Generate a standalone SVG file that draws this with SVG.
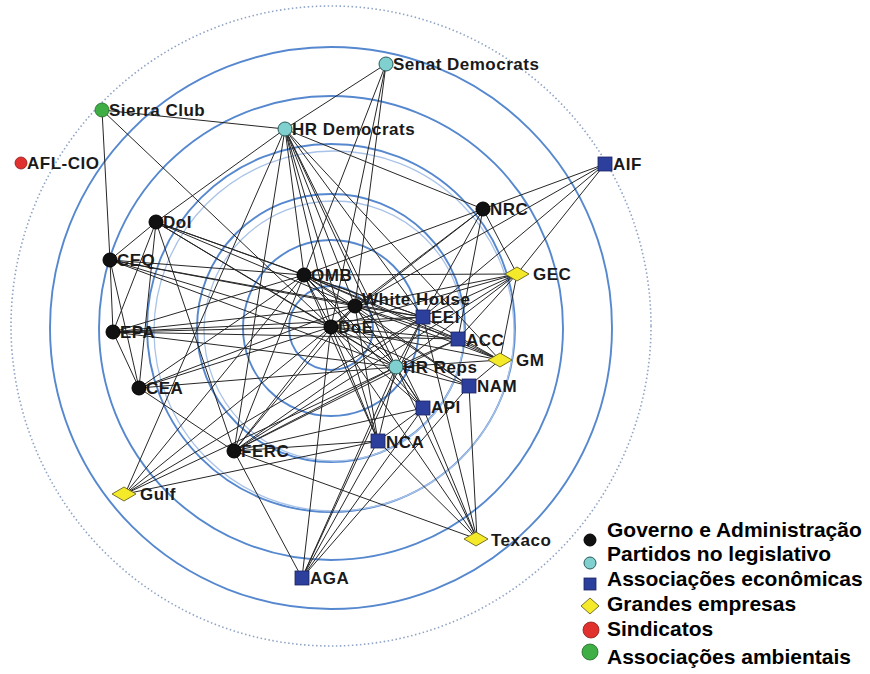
<svg xmlns="http://www.w3.org/2000/svg" width="870" height="674" viewBox="0 0 870 674">
<style>
.ring{fill:none;stroke:#5688cf;stroke-width:1.9}
.ring2{fill:none;stroke:#a9c3e8;stroke-width:1.3}
.edges line{stroke:#262626;stroke-width:1}
.gov{fill:#111;stroke:#000;stroke-width:1}
.party{fill:#7fd0cf;stroke:#2a5a5a;stroke-width:1}
.assoc{fill:#2c3f9c;stroke:#1a2560;stroke-width:0.8}
.firm{fill:#f4ea2a;stroke:#6a6420;stroke-width:0.9}
.union{fill:#e0312f;stroke:#8a1a1a;stroke-width:0.8}
.env{fill:#3fae45;stroke:#1f6a25;stroke-width:0.8}
.lbl{font-family:"Liberation Sans",Arial,sans-serif;font-size:17px;font-weight:bold;letter-spacing:0.5px;fill:#1a1a1a}
.leg{font-family:"Liberation Sans",Arial,sans-serif;font-size:21px;font-weight:bold;fill:#000}
</style>
<rect width="870" height="674" fill="#fff"/>
<g id="rings">
<circle cx="331" cy="326" r="320" fill="none" stroke="#8fa3c4" stroke-width="1.6" stroke-dasharray="1.5 2.5"/>
<circle class="ring" cx="331" cy="328" r="281" stroke-width="2.8" stroke="#4a7cc6"/>
<circle class="ring" cx="331" cy="328" r="232"/>
<circle class="ring" cx="331" cy="328" r="184"/>
<circle class="ring2" cx="334" cy="331" r="180"/>
<circle class="ring" cx="331" cy="328" r="134"/>
<circle class="ring2" cx="334" cy="331" r="130"/>
<circle class="ring" cx="331" cy="328" r="88"/>
<circle class="ring" cx="331" cy="328" r="42"/>
</g>
<g id="connectors" class="edges">
<line x1="386" y1="64" x2="285" y2="129"/>
<line x1="386" y1="64" x2="304" y2="275"/>
<line x1="386" y1="64" x2="355" y2="306"/>
<line x1="386" y1="64" x2="331" y2="327"/>
<line x1="102" y1="110" x2="285" y2="129"/>
<line x1="102" y1="110" x2="110" y2="260"/>
<line x1="102" y1="110" x2="331" y2="327"/>
<line x1="285" y1="129" x2="156" y2="222"/>
<line x1="285" y1="129" x2="483" y2="209"/>
<line x1="285" y1="129" x2="234" y2="451"/>
<line x1="285" y1="129" x2="304" y2="275"/>
<line x1="285" y1="129" x2="331" y2="327"/>
<line x1="285" y1="129" x2="355" y2="306"/>
<line x1="285" y1="129" x2="396" y2="367"/>
<line x1="285" y1="129" x2="378" y2="441"/>
<line x1="285" y1="129" x2="423" y2="408"/>
<line x1="285" y1="129" x2="500" y2="360"/>
<line x1="285" y1="129" x2="423" y2="317"/>
<line x1="285" y1="129" x2="125" y2="494"/>
<line x1="156" y1="222" x2="110" y2="260"/>
<line x1="156" y1="222" x2="113" y2="332"/>
<line x1="156" y1="222" x2="139" y2="388"/>
<line x1="156" y1="222" x2="234" y2="451"/>
<line x1="156" y1="222" x2="304" y2="275"/>
<line x1="156" y1="222" x2="355" y2="306"/>
<line x1="156" y1="222" x2="331" y2="327"/>
<line x1="156" y1="222" x2="423" y2="317"/>
<line x1="156" y1="222" x2="396" y2="367"/>
<line x1="110" y1="260" x2="113" y2="332"/>
<line x1="110" y1="260" x2="139" y2="388"/>
<line x1="110" y1="260" x2="304" y2="275"/>
<line x1="110" y1="260" x2="355" y2="306"/>
<line x1="110" y1="260" x2="331" y2="327"/>
<line x1="110" y1="260" x2="423" y2="317"/>
<line x1="110" y1="260" x2="396" y2="367"/>
<line x1="113" y1="332" x2="139" y2="388"/>
<line x1="113" y1="332" x2="331" y2="327"/>
<line x1="113" y1="332" x2="304" y2="275"/>
<line x1="113" y1="332" x2="355" y2="306"/>
<line x1="113" y1="332" x2="423" y2="317"/>
<line x1="113" y1="332" x2="458" y2="339"/>
<line x1="113" y1="332" x2="396" y2="367"/>
<line x1="139" y1="388" x2="234" y2="451"/>
<line x1="139" y1="388" x2="304" y2="275"/>
<line x1="139" y1="388" x2="331" y2="327"/>
<line x1="139" y1="388" x2="396" y2="367"/>
<line x1="139" y1="388" x2="355" y2="306"/>
<line x1="234" y1="451" x2="304" y2="275"/>
<line x1="234" y1="451" x2="355" y2="306"/>
<line x1="234" y1="451" x2="331" y2="327"/>
<line x1="234" y1="451" x2="423" y2="317"/>
<line x1="234" y1="451" x2="458" y2="339"/>
<line x1="234" y1="451" x2="396" y2="367"/>
<line x1="234" y1="451" x2="423" y2="408"/>
<line x1="234" y1="451" x2="378" y2="441"/>
<line x1="234" y1="451" x2="517" y2="274"/>
<line x1="234" y1="451" x2="302" y2="578"/>
<line x1="234" y1="451" x2="477" y2="539"/>
<line x1="125" y1="494" x2="304" y2="275"/>
<line x1="125" y1="494" x2="331" y2="327"/>
<line x1="125" y1="494" x2="396" y2="367"/>
<line x1="125" y1="494" x2="378" y2="441"/>
<line x1="125" y1="494" x2="423" y2="317"/>
<line x1="302" y1="578" x2="331" y2="327"/>
<line x1="302" y1="578" x2="396" y2="367"/>
<line x1="302" y1="578" x2="423" y2="317"/>
<line x1="302" y1="578" x2="378" y2="441"/>
<line x1="302" y1="578" x2="423" y2="408"/>
<line x1="302" y1="578" x2="469" y2="386"/>
<line x1="477" y1="539" x2="378" y2="441"/>
<line x1="477" y1="539" x2="423" y2="408"/>
<line x1="477" y1="539" x2="396" y2="367"/>
<line x1="477" y1="539" x2="331" y2="327"/>
<line x1="477" y1="539" x2="469" y2="386"/>
<line x1="477" y1="539" x2="423" y2="317"/>
<line x1="378" y1="441" x2="304" y2="275"/>
<line x1="378" y1="441" x2="355" y2="306"/>
<line x1="378" y1="441" x2="331" y2="327"/>
<line x1="378" y1="441" x2="396" y2="367"/>
<line x1="378" y1="441" x2="423" y2="408"/>
<line x1="483" y1="209" x2="605" y2="164"/>
<line x1="483" y1="209" x2="517" y2="274"/>
<line x1="483" y1="209" x2="304" y2="275"/>
<line x1="483" y1="209" x2="355" y2="306"/>
<line x1="483" y1="209" x2="423" y2="317"/>
<line x1="483" y1="209" x2="458" y2="339"/>
<line x1="483" y1="209" x2="331" y2="327"/>
<line x1="605" y1="164" x2="517" y2="274"/>
<line x1="605" y1="164" x2="355" y2="306"/>
<line x1="605" y1="164" x2="423" y2="317"/>
<line x1="517" y1="274" x2="304" y2="275"/>
<line x1="517" y1="274" x2="355" y2="306"/>
<line x1="517" y1="274" x2="331" y2="327"/>
<line x1="517" y1="274" x2="423" y2="317"/>
<line x1="517" y1="274" x2="458" y2="339"/>
<line x1="517" y1="274" x2="500" y2="360"/>
<line x1="517" y1="274" x2="396" y2="367"/>
<line x1="500" y1="360" x2="331" y2="327"/>
<line x1="500" y1="360" x2="355" y2="306"/>
<line x1="500" y1="360" x2="304" y2="275"/>
<line x1="500" y1="360" x2="469" y2="386"/>
<line x1="500" y1="360" x2="458" y2="339"/>
<line x1="500" y1="360" x2="396" y2="367"/>
<line x1="500" y1="360" x2="423" y2="317"/>
<line x1="469" y1="386" x2="331" y2="327"/>
<line x1="469" y1="386" x2="396" y2="367"/>
<line x1="469" y1="386" x2="304" y2="275"/>
<line x1="469" y1="386" x2="355" y2="306"/>
<line x1="423" y1="408" x2="331" y2="327"/>
<line x1="423" y1="408" x2="396" y2="367"/>
<line x1="423" y1="408" x2="304" y2="275"/>
<line x1="423" y1="408" x2="355" y2="306"/>
<line x1="458" y1="339" x2="331" y2="327"/>
<line x1="458" y1="339" x2="355" y2="306"/>
<line x1="458" y1="339" x2="304" y2="275"/>
<line x1="458" y1="339" x2="396" y2="367"/>
<line x1="423" y1="317" x2="331" y2="327"/>
<line x1="423" y1="317" x2="355" y2="306"/>
<line x1="423" y1="317" x2="304" y2="275"/>
<line x1="423" y1="317" x2="396" y2="367"/>
<line x1="396" y1="367" x2="331" y2="327"/>
<line x1="396" y1="367" x2="355" y2="306"/>
<line x1="396" y1="367" x2="304" y2="275"/>
<line x1="331" y1="327" x2="355" y2="306"/>
<line x1="331" y1="327" x2="304" y2="275"/>
<line x1="355" y1="306" x2="304" y2="275"/>
</g>
<g id="node-senat-democrats"><circle class="party" cx="386" cy="64" r="7"/><text class="lbl" x="393" y="70">Senat Democrats</text></g>
<g id="node-sierra-club"><circle class="env" cx="102" cy="110" r="7"/><text class="lbl" x="109" y="116">Sierra Club</text></g>
<g id="node-hr-democrats"><circle class="party" cx="285" cy="129" r="7"/><text class="lbl" x="292" y="135">HR Democrats</text></g>
<g id="node-afl-cio"><circle class="union" cx="21" cy="163" r="6"/><text class="lbl" x="27" y="169">AFL-CIO</text></g>
<g id="node-aif"><rect class="assoc" x="598" y="157" width="14" height="14"/><text class="lbl" x="613" y="170">AIF</text></g>
<g id="node-doi"><circle class="gov" cx="156" cy="222" r="7"/><text class="lbl" x="163" y="228">DoI</text></g>
<g id="node-nrc"><circle class="gov" cx="483" cy="209" r="7"/><text class="lbl" x="490" y="215">NRC</text></g>
<g id="node-ceq"><circle class="gov" cx="110" cy="260" r="7"/><text class="lbl" x="117" y="266">CEQ</text></g>
<g id="node-omb"><circle class="gov" cx="304" cy="275" r="7"/><text class="lbl" x="311" y="281">OMB</text></g>
<g id="node-gec"><polygon class="firm" points="505,274 517,267 529,274 517,281"/><text class="lbl" x="533" y="280">GEC</text></g>
<g id="node-white-house"><circle class="gov" cx="355" cy="306" r="7"/><text class="lbl" x="362" y="305">White House</text></g>
<g id="node-eei"><rect class="assoc" x="416" y="310" width="14" height="14"/><text class="lbl" x="431" y="323">EEI</text></g>
<g id="node-doe"><circle class="gov" cx="331" cy="327" r="7"/><text class="lbl" x="338" y="333">DoE</text></g>
<g id="node-epa"><circle class="gov" cx="113" cy="332" r="7"/><text class="lbl" x="120" y="338">EPA</text></g>
<g id="node-acc"><rect class="assoc" x="451" y="332" width="14" height="14"/><text class="lbl" x="466" y="346">ACC</text></g>
<g id="node-gm"><polygon class="firm" points="488,360 500,353 512,360 500,367"/><text class="lbl" x="516" y="366">GM</text></g>
<g id="node-hr-reps"><circle class="party" cx="396" cy="367" r="7"/><text class="lbl" x="403" y="373">HR Reps</text></g>
<g id="node-nam"><rect class="assoc" x="462" y="379" width="14" height="14"/><text class="lbl" x="477" y="392">NAM</text></g>
<g id="node-cea"><circle class="gov" cx="139" cy="388" r="7"/><text class="lbl" x="146" y="394">CEA</text></g>
<g id="node-api"><rect class="assoc" x="416" y="401" width="14" height="14"/><text class="lbl" x="431" y="413">API</text></g>
<g id="node-nca"><rect class="assoc" x="371" y="434" width="14" height="14"/><text class="lbl" x="386" y="448">NCA</text></g>
<g id="node-ferc"><circle class="gov" cx="234" cy="451" r="7"/><text class="lbl" x="241" y="457">FERC</text></g>
<g id="node-gulf"><polygon class="firm" points="112,494 124,487 136,494 124,501"/><text class="lbl" x="140" y="500">Gulf</text></g>
<g id="node-texaco"><polygon class="firm" points="464,539 476,532 488,539 476,546"/><text class="lbl" x="491" y="546" font-weight="normal">Texaco</text></g>
<g id="node-aga"><rect class="assoc" x="295" y="571" width="14" height="14"/><text class="lbl" x="310" y="584">AGA</text></g>
<g id="legend">
<circle class="gov" cx="590" cy="540" r="6"/><text class="leg" x="607" y="537">Governo e Administração</text>
<circle class="party" cx="590" cy="563" r="6"/><text class="leg" x="607" y="561">Partidos no legislativo</text>
<rect class="assoc" x="584" y="578" width="12" height="12"/><text class="leg" x="607" y="586">Associações econômicas</text>
<polygon class="firm" points="581,606 590,598 599,606 590,614"/><text class="leg" x="607" y="611">Grandes empresas</text>
<circle class="union" cx="591" cy="630" r="8"/><text class="leg" x="607" y="636">Sindicatos</text>
<circle class="env" cx="590" cy="652" r="8"/><text class="leg" x="607" y="664">Associações ambientais</text>
</g>
</svg>
